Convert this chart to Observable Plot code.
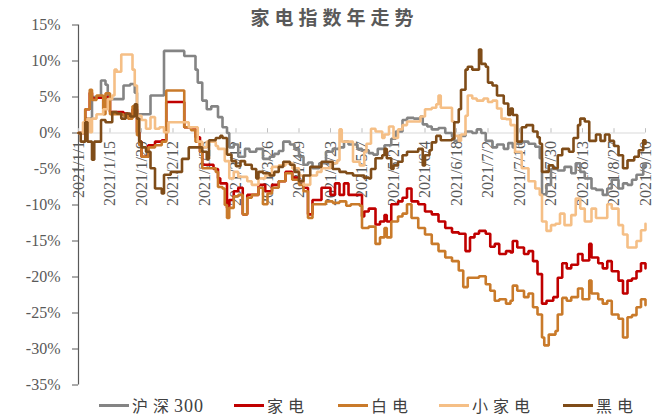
<!DOCTYPE html>
<html><head><meta charset="utf-8">
<script src="https://cdn.jsdelivr.net/npm/d3@7"></script>
<script src="https://cdn.jsdelivr.net/npm/@observablehq/plot@0.6"></script>
<style>
html,body{margin:0;padding:0;background:#fff;}
body{width:661px;height:420px;position:relative;overflow:hidden;}
#chart{position:absolute;left:0;top:0;}
#title{position:absolute;left:0;top:4px;width:661px;text-align:center;font-family:"Noto Sans CJK SC",sans-serif;font-weight:bold;font-size:19px;letter-spacing:5px;color:#595959;padding-left:8px;box-sizing:border-box;line-height:26px;}
#legend{position:absolute;left:0;top:394px;width:661px;height:22px;font-family:"Noto Sans CJK SC",sans-serif;font-size:16px;color:#404040;letter-spacing:5px;line-height:22px;}
.item{position:absolute;top:0;display:flex;align-items:center;white-space:nowrap;}
.sw{width:30px;height:3px;margin-right:3px;}
.num{font-family:"Liberation Serif",serif;font-size:18px;letter-spacing:1px;}
</style></head><body>
<div id="chart"></div>
<div id="title">家电指数年走势</div>
<div id="legend"></div>
<script>
const startDate = "2021/1/1";
const endDate = "2021/9/10";
const tickLabels = ["2021/1/1","2021/1/15","2021/1/29","2021/2/12","2021/2/26","2021/3/12","2021/3/26","2021/4/9","2021/4/23","2021/5/7","2021/5/21","2021/6/4","2021/6/18","2021/7/2","2021/7/16","2021/7/30","2021/8/13","2021/8/27","2021/9/10"];
const yTicks = [15,10,5,0,-5,-10,-15,-20,-25,-30,-35];
const seriesNames = ["沪深300","家电","白电","小家电","黑电"];
const seriesColors = ["#848484","#c00000","#c97a2a","#f5bf86","#7f4c18"];
const legendLeft = [99, 234, 338, 439, 563];

// [days since 2021/1/1, % change]
const hs300 = [[0,0],[3,2],[6,5],[10,7.3],[12,6.7],[13,4.7],[17,4.7],[20,6.6],[23,6.8],[25,5.6],[26,2.6],[30,2.6],[32,5.2],[37,5.2],[38,11.4],[46,11.4],[47,10.7],[50,10.7],[52,8.8],[53,7],[55,4.5],[57,3.3],[59,3.7],[62,2.2],[64,0.8],[66,0],[67,-2],[69,-1.6],[71,-3.3],[74,-2.2],[76,-2.6],[79,-2.2],[82,-3.6],[85,-3.3],[87,-2.9],[89,-2.5],[91,-1.2],[94,-1.6],[96,-2.2],[98,-3.3],[100,-4.4],[102,-4.1],[104,-4.9],[107,-4.2],[110,-2.6],[113,-2.2],[116,-2],[118,-1.2],[120,-1.6],[124,-2.2],[126,-2.4],[129,-2.8],[131,-3],[133,-2.2],[136,-1.7],[139,-0.8],[141,0.2],[144,1.8],[146,2.1],[149,2],[152,2.3],[153,1.2],[155,0.9],[157,0.5],[160,0.7],[163,0],[166,-0.5],[167,-1.1],[169,-0.4],[172,0.2],[175,0],[177,0.5],[179,0],[181,-1.1],[184,-2],[186,-1.6],[189,-2.2],[191,-1.4],[193,-2],[194,-1.5],[197,-1.2],[200,-1.5],[203,-1.9],[205,-3.5],[206,-8.5],[208,-7.2],[210,-5],[213,-5.2],[216,-4.7],[219,-5.6],[221,-4.2],[223,-5.4],[225,-6.3],[228,-7.7],[230,-7.9],[233,-8.6],[235,-7.7],[237,-6.5],[240,-7.7],[242,-7],[244,-7.2],[246,-6.5],[248,-5.8],[251,-4.4],[252,-4.6]];

const jiadian = [[0,0],[3,3.3],[5,5.6],[6,4.8],[8,4.9],[11,3.3],[12,5],[14,2.9],[17,2.9],[20,2.7],[22,2.4],[24,3.3],[26,0.1],[27,-1.2],[28,-3.3],[31,-1.7],[34,-1.2],[37,-1],[39,4.3],[46,4.3],[47,0.8],[50,0.6],[52,-0.6],[54,-2.6],[55,-4.4],[57,-4.4],[60,-5],[62,-6.3],[63,-7],[66,-10.4],[67,-9.3],[69,-8.1],[71,-7.6],[73,-11.3],[75,-8.6],[77,-8.6],[80,-7.2],[83,-8.1],[86,-7.2],[89,-6.7],[92,-5.4],[95,-6.2],[98,-6.7],[100,-7.6],[102,-11.3],[104,-9.3],[107,-9.3],[108,-7.6],[112,-8.6],[114,-7],[116,-8.6],[118,-7],[120,-8.6],[124,-8.6],[126,-11.6],[127,-10.9],[129,-10.5],[132,-12.7],[134,-12.3],[136,-11.4],[137,-12.3],[139,-9.9],[142,-9.5],[144,-9],[146,-7.7],[148,-9.5],[151,-9.9],[154,-10.9],[157,-11.3],[160,-12.3],[163,-13.2],[166,-13.8],[169,-14],[172,-16.4],[174,-14.5],[176,-14],[178,-13.6],[181,-14],[183,-15.8],[185,-15.4],[187,-16.8],[190,-16.4],[192,-16.6],[193,-15],[195,-15.9],[198,-16.8],[200,-16.4],[202,-17.8],[204,-19.6],[206,-23.7],[208,-23.3],[211,-22.8],[213,-20.1],[215,-18.1],[217,-18.8],[219,-18.3],[222,-16.8],[224,-17.7],[227,-15.4],[228,-17.3],[231,-18.1],[233,-18.8],[235,-17.8],[237,-19.2],[240,-20.5],[242,-22.3],[244,-20.5],[246,-20.2],[248,-19.2],[250,-18.1],[252,-18.8]];

const baidian = [[0,0],[3,3.3],[5,6],[6,4.6],[8,5.2],[11,2.6],[12,5.5],[14,2.6],[17,2.6],[20,2.4],[22,2],[24,3.7],[26,-0.3],[27,-1.7],[28,-3.3],[31,-2],[34,-1.7],[37,-1.2],[39,5.9],[46,5.9],[47,0.8],[50,0.4],[52,-1.2],[54,-2.6],[55,-4.9],[57,-4.9],[61,-5.4],[62,-7.5],[64,-7.7],[65,-10],[66,-11.8],[67,-10.4],[69,-8.8],[71,-8.6],[73,-11.3],[75,-9],[77,-8.6],[80,-7.6],[82,-9.9],[84,-8.4],[86,-7.6],[89,-6.7],[92,-5.6],[95,-6.5],[98,-7.2],[100,-8.1],[102,-11.8],[104,-9.9],[107,-9.9],[110,-9.5],[113,-9.7],[116,-9.5],[119,-10.1],[121,-9.9],[125,-10.1],[126,-13.2],[129,-13],[132,-15.4],[134,-14.5],[136,-13.2],[137,-14.5],[139,-12.3],[142,-11.6],[144,-11.2],[146,-9.9],[148,-11.8],[151,-13.2],[154,-14.1],[157,-15.4],[160,-16.4],[163,-17.3],[166,-17.8],[169,-19.1],[171,-21.4],[173,-20.1],[176,-20.1],[178,-19.9],[181,-21],[183,-21.9],[185,-23.3],[187,-23.1],[190,-23.7],[192,-23.3],[193,-21.2],[195,-21.9],[198,-22.8],[200,-22.3],[202,-24.2],[204,-25.2],[206,-28.4],[207,-29.5],[209,-28],[212,-27.5],[213,-25.2],[215,-22.9],[217,-23.3],[219,-22.8],[222,-21.6],[224,-23.1],[227,-20.5],[228,-22.3],[231,-23.1],[233,-23.7],[235,-23.3],[237,-25.2],[240,-25.8],[242,-28.4],[244,-25.6],[246,-25.3],[248,-24.2],[250,-23.1],[252,-23.9]];

const xiaojiadian = [[0,0],[2,1.5],[4,2],[5,0.1],[6,2],[8,2.6],[11,3.3],[13,4.7],[15,5.2],[16,8.8],[17,8.5],[19,10.9],[22,10.9],[24,8.8],[25,6.6],[26,2.4],[28,1.8],[30,0.6],[32,2.2],[34,0.6],[36,0.8],[38,0.1],[40,1.5],[47,1.5],[49,0.8],[51,0.8],[53,-1.2],[55,-2],[57,-1.2],[61,-1.8],[62,-2.2],[65,-3.9],[67,-6.3],[69,-5.4],[71,-6.1],[75,-6.7],[77,-7.2],[80,-6.3],[83,-5.9],[86,-4.7],[89,-4.5],[92,-4.2],[95,-4.9],[98,-5.9],[100,-7.2],[103,-5.9],[106,-5.4],[108,-4.9],[112,-4.2],[115,-3.8],[116,0.5],[117,-1.2],[121,-1.2],[122,-4],[125,-4.5],[127,-2.6],[128,-1.5],[130,0.6],[132,0.2],[135,-0.7],[136,-0.2],[138,0.9],[140,-0.7],[142,0.5],[144,1.1],[146,1.6],[149,1.6],[152,2.3],[154,3.3],[157,3.5],[159,4],[160,5.2],[161,3.5],[164,3.5],[166,1.6],[167,-0.4],[169,-1.1],[170,-0.2],[172,2.4],[173,5.2],[175,4.8],[177,4.5],[180,4.8],[182,4.3],[184,4.5],[186,3.4],[188,2],[190,1.9],[192,1.1],[194,-2.6],[197,-4.9],[200,-6.7],[203,-7.7],[205,-8.6],[206,-12.3],[208,-13.6],[210,-12.8],[212,-12.6],[214,-11.2],[216,-12.8],[219,-11.4],[221,-9.1],[223,-10.5],[225,-12.3],[228,-10.5],[230,-11.8],[233,-11.8],[235,-9.9],[237,-10.5],[240,-12.8],[242,-14.1],[244,-15.9],[246,-15.9],[248,-15],[250,-13.5],[252,-12.6]];

const heidian = [[0,0],[1,-1.2],[3,1.5],[4,-1.2],[6,-3.7],[7,-1.2],[9,-1.2],[10,1.8],[12,1.5],[15,2.9],[17,2.7],[19,2],[21,2.7],[23,2.3],[25,4],[26,2],[27,-1.2],[28,-2],[30,-2.6],[32,-4.9],[34,-7.7],[37,-8.4],[38,-5.8],[41,-5.4],[43,-5.4],[46,-3.6],[49,-2],[52,-2],[55,-2.6],[57,-3.6],[58,-1],[61,-0.7],[63,-0.4],[64,-0.7],[66,-3],[68,-3.9],[70,-4.6],[72,-3.9],[74,-4.4],[77,-5],[79,-6.3],[80,-5.4],[82,-5.6],[85,-5.9],[87,-5.4],[89,-4.7],[91,-4],[94,-4.4],[96,-5.4],[98,-6.7],[100,-5.9],[103,-4.7],[106,-4.7],[108,-4],[110,-4],[113,-5],[116,-5.4],[119,-5.6],[122,-5.9],[125,-5.9],[127,-6.2],[129,-6.3],[130,-5],[132,-3.5],[135,-3.1],[136,-2.2],[137,-3.5],[139,-5],[140,-4.5],[142,-4],[144,-3.1],[146,-2.6],[149,-2.6],[151,-2.2],[153,-4.5],[154,-3.1],[156,-2.4],[157,-1.3],[159,-0.4],[161,-1],[164,-1],[166,-0.8],[167,1.5],[169,3.3],[170,6],[172,8.8],[173,9.2],[175,8.8],[177,8.8],[178,11.6],[179,9.6],[181,9.2],[182,7],[184,6.6],[186,5.2],[189,4.1],[191,2.5],[192,3.4],[193,2.5],[195,-1.2],[197,0.8],[199,1.1],[202,0.2],[204,-0.6],[205,-1.5],[206,-5.4],[209,-4.5],[211,-4.9],[213,-3.1],[215,-2.2],[218,-2.6],[220,-0.7],[222,1.1],[223,2],[225,1.6],[227,-1.1],[230,-0.2],[232,-1.1],[234,-0.2],[236,-1.1],[238,-1.8],[240,-3.1],[242,-4.9],[244,-3.8],[247,-3.3],[249,-2.4],[251,-1],[252,-1.5]];

const parse = d3.utcParse("%Y/%m/%d");
const t0 = parse(startDate), t1 = parse(endDate);
const tickDates = tickLabels.map(parse);
const seriesData = [hs300, jiadian, baidian, xiaojiadian, heidian];
const rows = [];
seriesData.forEach((arr, si) => arr.forEach(([d, v]) => rows.push({series: seriesNames[si], date: d3.utcDay.offset(t0, d), value: v})));

const plot = Plot.plot({
  width: 661, height: 395,
  marginLeft: 78, marginRight: 16, marginTop: 24.5, marginBottom: 10.5,
  x: {type: "utc", domain: [t0, t1], axis: null},
  y: {domain: [-35, 15], axis: null},
  color: {domain: seriesNames, range: seriesColors},
  style: {fontFamily: "'Liberation Serif', serif", fontSize: "16px", color: "#595959", background: "white", overflow: "visible"},
  marks: [
    Plot.ruleY([0], {stroke: "#d9d9d9", strokeWidth: 1.2}),
    Plot.axisY({ticks: yTicks, tickFormat: d => `${d}%`, label: null, tickSize: 6, tickPadding: 12, stroke: "#595959", fill: "#595959", fontSize: 16}),
    Plot.ruleX([t0], {y1: -35, y2: 15, stroke: "#595959", strokeWidth: 1.2}),
    Plot.ruleX(tickDates, {y1: 0, y2: 0.6, stroke: "#bfbfbf"}),
    Plot.text(tickDates, {x: d => d, y: 0, text: (d, i) => tickLabels[i], rotate: -90, textAnchor: "end", dy: 8, fill: "#595959", fontSize: 16}),
    Plot.line(rows, {x: "date", y: "value", z: "series", stroke: "series", strokeWidth: 2.6, curve: "step-after", strokeLinejoin: "miter"})
  ]
});
document.getElementById("chart").appendChild(plot);

const legend = document.getElementById("legend");
seriesNames.forEach((name, i) => {
  const it = document.createElement("div");
  it.className = "item";
  it.style.left = legendLeft[i] + "px";
  const sw = document.createElement("div");
  sw.className = "sw";
  sw.style.background = seriesColors[i];
  const tx = document.createElement("span");
  const m = name.match(/^(\D*)(\d*)$/);
  tx.appendChild(document.createTextNode(m[1]));
  if (m[2]) {
    const n = document.createElement("span");
    n.className = "num";
    n.textContent = m[2];
    tx.appendChild(n);
  }
  it.appendChild(sw); it.appendChild(tx);
  legend.appendChild(it);
});
</script>
</body></html>
